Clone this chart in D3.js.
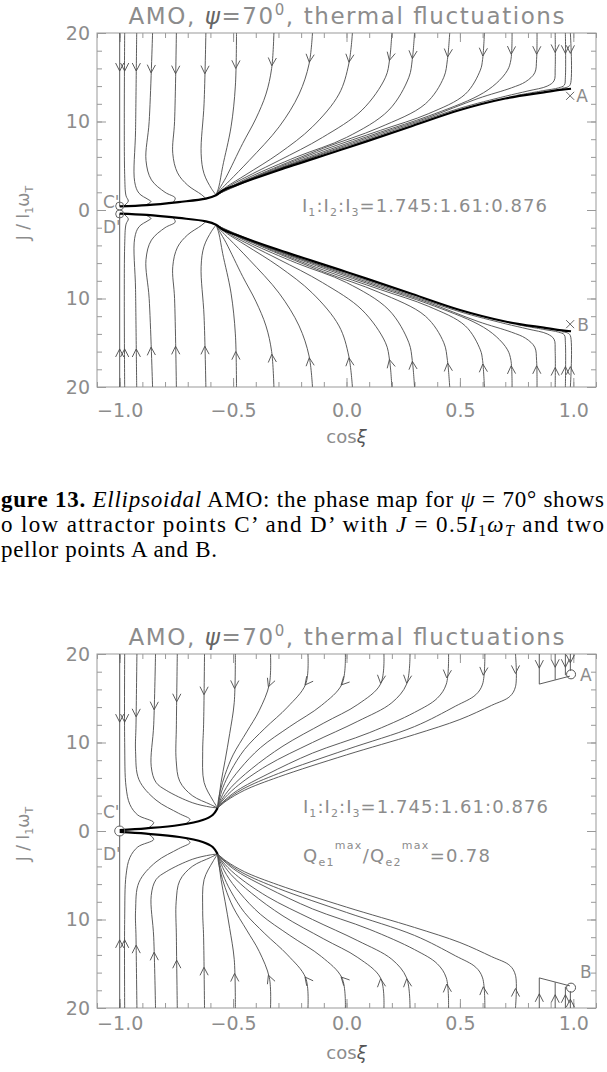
<!DOCTYPE html>
<html>
<head>
<meta charset="utf-8">
<script src="https://cdn.jsdelivr.net/npm/d3@7"></script>
<style>
  body { margin: 0; background: #fff; }
  svg { display: block; }
</style>
</head>
<body>
<div id="chart-area"></div>
<script>
// axis ticks
const xTicks = [-1.0, -0.5, 0.0, 0.5, 1.0];
const yTicks = [-20, -10, 0, 10, 20];
const xMinor = d3.range(-11, 12).map(i => i / 10);
const yMinor = d3.range(-20, 21, 2);

// ---- upper figure: upper half of the map, [cos xi, J]; lower half is its mirror
const thick1 = [[-1.0,0.4],[-0.88,0.55],[-0.74,0.9],[-0.62,1.28],[-0.575,1.66],[-0.546,2.2],[-0.487,2.8],
    [-0.3,4.5],[0.0,7.0],[0.29,9.5],[0.5,11.3],[0.7,12.6],[0.87,13.3],[0.95,13.6],[0.99,13.7]];
const lines1 = [
    [[-1.0,20],[-1.0,0.4]],
    [[-0.978,20],[-0.978,4],[-0.972,1.6],[-0.962,1.0],[-0.98,0.5]],
    [[-0.925,20],[-0.93,9],[-0.934,3.2],[-0.915,1.9],[-0.875,1.2],[-0.862,0.95],[-0.885,0.57]],
    [[-0.855,20],[-0.87,10],[-0.884,5.6],[-0.86,3.4],[-0.8,2.0],[-0.755,1.35],[-0.765,0.84]],
    [[-0.75,20],[-0.758,10],[-0.766,6.4],[-0.745,4.2],[-0.7,2.8],[-0.64,1.75],[-0.62,1.3]],
    [[-0.62,20],[-0.628,12],[-0.641,6.4],[-0.628,4.1],[-0.595,2.4],[-0.575,1.7]],
    [[-0.485,20],[-0.49,14],[-0.509,9.4],[-0.546,4.9],[-0.563,2.6],[-0.575,1.7]],
    [[-0.32,20],[-0.33,16],[-0.355,13.1],[-0.4,10.3],[-0.458,7.5],[-0.531,3.7],[-0.56,2.4],[-0.575,1.7]],
    [[-0.15,20],[-0.165,16.5],[-0.209,13.1],[-0.297,9.4],[-0.429,5.6],[-0.516,3.3],[-0.555,2.3],[-0.575,1.7]],
    [[0.026,20],[0.01,16.5],[-0.033,13.1],[-0.15,9.4],[-0.297,6.4],[-0.443,4.0],[-0.53,2.6],[-0.575,1.7]],
    [[0.2,20],[0.19,17],[0.172,15],[0.069,11.3],[-0.106,8.2],[-0.297,5.6],[-0.414,4.1],[-0.51,2.8],[-0.575,1.7]],
    [[0.3,20],[0.29,17],[0.275,15],[0.187,11.3],[0.0,8.2],[-0.22,6.0],[-0.42,3.8],[-0.52,2.5],[-0.575,1.7]],
    [[0.455,20],[0.445,17],[0.429,15],[0.348,12.0],[0.143,9.3],[-0.1,7.0],[-0.35,4.4],[-0.5,2.7],[-0.575,1.7]],
    [[0.608,20],[0.6,17],[0.59,15.8],[0.524,13.1],[0.363,10.9],[0.15,9.0],[-0.1,6.8],[-0.35,4.3],[-0.5,2.65],[-0.575,1.7]],
    [[0.73,20],[0.725,17],[0.71,15.8],[0.66,14.3],[0.58,12.9],[0.36,10.6],[0.15,8.8],[-0.1,6.6],[-0.35,4.2],[-0.5,2.6],[-0.575,1.7]],
    [[0.84,20],[0.838,17],[0.83,15.5],[0.79,14.5],[0.727,13.8],[0.58,12.6],[0.36,10.45],[0.15,8.65],[-0.1,6.45],[-0.35,4.15],[-0.5,2.55],[-0.575,1.7]],
    [[0.92,20],[0.92,16],[0.915,14.6],[0.885,14.0],[0.8,13.45],[0.7,12.85],[0.5,11.5],[0.29,9.7],[0.0,7.2],[-0.3,4.65],[-0.487,2.9],[-0.575,1.7]],
    [[0.965,20],[0.965,15],[0.96,14.1],[0.935,13.8],[0.87,13.5],[0.75,12.95]],
    [[0.987,20],[0.987,14.2],[0.975,13.9],[0.95,13.75]]
];
const edges1 = [];
const arrowJ1 = [15.7,15.7,15.7,15.5,15.4,15.4,16.0,16.3,16.7,16.7,16.9,17.1,17.3,17.4,17.6,17.6,17.8,17.7,17.7];

// ---- lower figure
const thick2 = [[-1.0,0.1],[-0.883,0.3],[-0.737,0.68],[-0.634,1.24],[-0.59,1.81],[-0.568,2.6]];
const lines2 = [
    [[-1.0,20],[-1.0,0.5]],
    [[-0.978,20],[-0.978,10],[-0.972,5],[-0.955,3],[-0.92,1.8],[-0.85,0.95],[-0.87,0.4]],
    [[-0.924,20],[-0.928,12],[-0.93,9],[-0.915,5.8],[-0.84,3.5],[-0.74,2.0],[-0.69,1.3],[-0.705,0.9]],
    [[-0.842,20],[-0.85,12],[-0.861,7.3],[-0.84,5.5],[-0.795,4.6],[-0.68,3.2],[-0.6,2.7],[-0.568,2.6]],
    [[-0.746,20],[-0.75,12],[-0.751,8],[-0.735,5.6],[-0.68,4.0],[-0.6,3.0],[-0.568,2.6]],
    [[-0.626,20],[-0.63,12],[-0.634,9],[-0.628,5.5],[-0.59,3.5],[-0.568,2.6]],
    [[-0.49,20],[-0.495,14.5],[-0.515,11],[-0.535,8],[-0.553,5.5],[-0.563,3.5],[-0.568,2.6]],
    [[-0.335,20],[-0.34,16.6],[-0.385,13.6],[-0.44,11.2],[-0.5,8.6],[-0.535,6.4],[-0.556,4.6],[-0.566,3.3],[-0.568,2.6]],
    [[-0.17,20],[-0.18,16.6],[-0.26,14.0],[-0.36,11.6],[-0.45,9.2],[-0.51,6.8],[-0.545,4.9],[-0.562,3.4],[-0.568,2.6]],
    [[-0.005,20],[-0.02,16.6],[-0.11,14.2],[-0.25,11.8],[-0.38,9.4],[-0.47,7.0],[-0.53,4.9],[-0.558,3.4],[-0.568,2.6]],
    [[0.165,20],[0.15,16.6],[0.05,14.3],[-0.1,12.2],[-0.28,9.6],[-0.42,7.0],[-0.51,4.9],[-0.553,3.4],[-0.568,2.6]],
    [[0.28,20],[0.265,16.6],[0.2,14.5],[0.05,12.4],[-0.15,10.0],[-0.35,7.4],[-0.49,4.9],[-0.548,3.4],[-0.568,2.6]],
    [[0.45,20],[0.44,16.6],[0.4,15.0],[0.3,13.4],[0.1,11.1],[-0.15,8.8],[-0.35,6.4],[-0.48,4.6],[-0.54,3.4],[-0.568,2.6]],
    [[0.61,20],[0.6,16.6],[0.57,15.4],[0.48,14.1],[0.3,11.8],[0.0,9.2],[-0.3,6.5],[-0.46,4.7],[-0.535,3.4],[-0.568,2.6]],
    [[0.745,20],[0.745,16.3],[0.72,15.2],[0.64,14.2],[0.5,12.6],[0.3,10.9],[0.0,8.6],[-0.3,6.1],[-0.45,4.6],[-0.53,3.4],[-0.568,2.6]]
];
// straight runs into the repellor A
const edges2 = [
    [[0.85,20],[0.85,16.6],[0.985,17.5]],
    [[0.92,20],[0.92,17.1]],
    [[0.965,20],[0.965,17.6]],
    [[0.987,20],[0.987,18.1]]
];
const arrowJ2 = [12.3,12.3,12.9,13.7,14.6,15.4,16.1,16.3,16.5,16.5,16.7,16.7,17.3,17.6,17.8,18.4,18.5,18.5,19.0];

class PhaseMap {
    constructor(svg, top, cfg) {
        this.svg = svg;
        this.top = top;
        this.cfg = cfg;
        this.initVis();
    }

    initVis() {
        const vis = this;
        vis.g = vis.svg.append("g").attr("transform", `translate(0, ${vis.top})`);
        vis.x = d3.scaleLinear().domain([-1.1, 1.1]).range([97, 596]);
        vis.y = d3.scaleLinear().domain([-20, 20]).range([387, 33]);
        vis.drawAxes();
        vis.drawFlow();
        vis.drawLabels();
    }

    drawAxes() {
        const vis = this;
        const [x0, x1] = vis.x.range();
        const [y1, y0] = vis.y.range();

        const axes = [
            [d3.axisBottom(vis.x).tickValues(xTicks).tickSize(-9).tickPadding(vis.cfg.xPad).tickFormat(d => d3.format(".1f")(d).replace("-", "\u2212")), `translate(0, ${y1})`],
            [d3.axisBottom(vis.x).tickValues(xMinor).tickSize(-5).tickFormat(""), `translate(0, ${y1})`],
            [d3.axisTop(vis.x).tickValues(xTicks).tickSize(-9).tickFormat(""), `translate(0, ${y0})`],
            [d3.axisTop(vis.x).tickValues(xMinor).tickSize(-5).tickFormat(""), `translate(0, ${y0})`],
            [d3.axisLeft(vis.y).tickValues(yTicks).tickSize(-9).tickPadding(7).tickFormat(d => Math.abs(d)), `translate(${x0}, 0)`],
            [d3.axisLeft(vis.y).tickValues(yMinor).tickSize(-5).tickFormat(""), `translate(${x0}, 0)`],
            [d3.axisRight(vis.y).tickValues(yTicks).tickSize(-9).tickFormat(""), `translate(${x1}, 0)`],
            [d3.axisRight(vis.y).tickValues(yMinor).tickSize(-5).tickFormat(""), `translate(${x1}, 0)`]
        ];
        axes.forEach(([axis, tr]) => {
            const a = vis.g.append("g").attr("transform", tr).call(axis);
            a.select(".domain").remove();
            a.selectAll("line").attr("stroke", "#999");
            a.selectAll("text")
                .attr("fill", "#8c8c8c")
                .attr("font-family", "DejaVu Sans")
                .attr("font-size", 19);
        });

        vis.g.append("rect")
            .attr("x", x0).attr("y", y0)
            .attr("width", x1 - x0).attr("height", y1 - y0)
            .attr("fill", "none").attr("stroke", "#999");
    }

    drawFlow() {
        const vis = this;
        const cfg = vis.cfg;
        const mirror = l => l.map(([a, b]) => [a, -b]);

        const smooth = d3.line().x(d => vis.x(d[0])).y(d => vis.y(d[1])).curve(d3.curveCatmullRom.alpha(0.5));
        const straight = d3.line().x(d => vis.x(d[0])).y(d => vis.y(d[1]));

        const flow = vis.g.append("g").attr("fill", "none");

        // thin trajectories, both halves
        const all = cfg.lines.concat(cfg.lines.map(mirror));
        flow.selectAll(".traj")
            .data(all)
            .join("path")
            .attr("class", "traj")
            .attr("stroke", "#4a4a4a")
            .attr("stroke-width", 0.9)
            .attr("d", smooth);

        const edges = cfg.edges.concat(cfg.edges.map(mirror));
        flow.selectAll(".edge")
            .data(edges)
            .join("path")
            .attr("class", "edge")
            .attr("stroke", "#4a4a4a")
            .attr("stroke-width", 0.9)
            .attr("d", straight);

        // attractor branches
        flow.selectAll(".thick")
            .data([cfg.thick, mirror(cfg.thick)])
            .join("path")
            .attr("class", "thick")
            .attr("stroke", "#000")
            .attr("stroke-width", 2.2)
            .attr("d", smooth);

        // arrow heads
        const src = cfg.lines.concat(cfg.edges);
        const heads = [];
        src.forEach((l, i) => {
            heads.push(vis.arrowAt(l, cfg.arrowJ[i]));
            heads.push(vis.arrowAt(mirror(l), -cfg.arrowJ[i]));
        });
        const len = 9, ang = 27 * Math.PI / 180;
        flow.selectAll(".head")
            .data(heads.filter(h => h))
            .join("path")
            .attr("class", "head")
            .attr("stroke", "#4a4a4a")
            .attr("stroke-width", 0.9)
            .attr("d", h => {
                const bx = -h.ux, by = -h.uy;
                const r = s => [h.px + len * (bx * Math.cos(s) - by * Math.sin(s)),
                                h.py + len * (bx * Math.sin(s) + by * Math.cos(s))];
                const a = r(ang), b = r(-ang);
                return `M${a[0]},${a[1]}L${h.px},${h.py}L${b[0]},${b[1]}`;
            });
    }

    arrowAt(pts, a) {
        const vis = this;
        for (let i = 0; i < pts.length - 1; i++) {
            const [x0, j0] = pts[i], [x1, j1] = pts[i + 1];
            if ((j0 - a) * (j1 - a) <= 0 && j0 !== j1) {
                const t = (a - j0) / (j1 - j0);
                const dx = vis.x(x1) - vis.x(x0), dy = vis.y(j1) - vis.y(j0);
                const n = Math.hypot(dx, dy);
                return { px: vis.x(x0 + t * (x1 - x0)), py: vis.y(a), ux: dx / n, uy: dy / n };
            }
        }
        return null;
    }

    drawLabels() {
        const vis = this;
        const cfg = vis.cfg;
        const grey = "#8c8c8c";
        const font = "DejaVu Sans";
        const txt = (x, y, size) => vis.g.append("text")
            .attr("x", x).attr("y", y)
            .attr("font-family", font).attr("font-size", size)
            .attr("fill", grey);

        // title
        const t = txt(vis.x(0), 24, 23).attr("text-anchor", "middle").attr("textLength", 436).attr("lengthAdjust", "spacing");
        t.append("tspan").text("AMO, ");
        t.append("tspan").attr("font-style", "italic").attr("fill", "#666").text("\u03c8");
        t.append("tspan").text("=70");
        t.append("tspan").attr("font-size", 15).attr("dy", -9).text("0");
        t.append("tspan").attr("dy", 9).text(", thermal fluctuations");

        // axis titles
        const xl = txt(vis.x(0), cfg.xLab, 18).attr("text-anchor", "middle");
        xl.append("tspan").text("cos");
        xl.append("tspan").attr("font-style", "italic").attr("fill", "#555").text("\u03be");

        const yl = vis.g.append("text")
            .attr("transform", "translate(29, 213) rotate(-90)")
            .attr("text-anchor", "middle")
            .attr("font-family", font).attr("font-size", 17).attr("fill", grey);
        yl.append("tspan").text("J / I");
        yl.append("tspan").attr("font-size", 11).attr("dy", 4).text("1");
        yl.append("tspan").attr("dy", -4).text("\u03c9");
        yl.append("tspan").attr("font-size", 11).attr("dy", 4).text("T");

        // ratio of moments of inertia
        const r = txt(cfg.ratio[0], cfg.ratio[1], 18).attr("textLength", 245).attr("lengthAdjust", "spacing");
        ["1", "2", "3"].forEach((k, i) => {
            r.append("tspan").attr("dy", i ? -4 : 0).text((i ? ":" : "") + "I");
            r.append("tspan").attr("font-size", 11).attr("dy", 4).text(k);
        });
        r.append("tspan").attr("dy", -4).text("=1.745:1.61:0.876");

        if (cfg.qratio) {
            const q = txt(cfg.qratio[0], cfg.qratio[1], 18).attr("textLength", 187).attr("lengthAdjust", "spacing");
            q.append("tspan").text("Q");
            q.append("tspan").attr("font-size", 11).attr("dy", 4).text("e1");
            q.append("tspan").attr("font-size", 11).attr("dy", -17).text("max");
            q.append("tspan").attr("dy", 13).text("/Q");
            q.append("tspan").attr("font-size", 11).attr("dy", 4).text("e2");
            q.append("tspan").attr("font-size", 11).attr("dy", -17).text("max");
            q.append("tspan").attr("dy", 13).text("=0.78");
        }

        // attractors C', D'
        txt(103, cfg.cLab, 17).text("C'");
        txt(103, cfg.dLab, 17).text("D'");
        cfg.attr.forEach(j => vis.g.append("circle")
            .attr("cx", vis.x(-1)).attr("cy", vis.y(j)).attr("r", cfg.attrR)
            .attr("fill", "none").attr("stroke", "#666"));

        // repellors A, B
        [[cfg.rep, "A", cfg.aOff], [[cfg.rep[0], -cfg.rep[1]], "B", cfg.bOff]].forEach(([p, name, off]) => {
            const px = vis.x(p[0]), py = vis.y(p[1]);
            if (cfg.repMark === "x") {
                vis.g.append("path")
                    .attr("d", `M${px - 4},${py - 4}L${px + 4},${py + 4}M${px - 4},${py + 4}L${px + 4},${py - 4}`)
                    .attr("stroke", "#666").attr("fill", "none");
            } else {
                vis.g.append("circle").attr("cx", px).attr("cy", py).attr("r", 4.5)
                    .attr("fill", "none").attr("stroke", "#555");
            }
            txt(px + off[0], py + off[1], 17).text(name);
        });
    }
}

const svg = d3.select("#chart-area")
    .append("svg")
    .attr("width", 607)
    .attr("height", 1072);

svg.append("rect").attr("width", 607).attr("height", 1072).attr("fill", "#fff");

new PhaseMap(svg, 0, {
    lines: lines1, edges: edges1, thick: thick1, arrowJ: arrowJ1,
    xPad: 17, xLab: 443,
    ratio: [302, 212], qratio: null,
    cLab: 208, dLab: 233, attr: [0.45, -0.45], attrR: 4,
    rep: [0.986, 12.9], repMark: "x", aOff: [6, 6], bOff: [7, 7]
});

new PhaseMap(svg, 621, {
    lines: lines2, edges: edges2, thick: thick2, arrowJ: arrowJ2,
    xPad: 9, xLab: 438,
    ratio: [303, 192], qratio: [303, 241],
    cLab: 197, dLab: 239, attr: [0], attrR: 5,
    rep: [0.99, 17.7], repMark: "o", aOff: [9, 7], bOff: [9, -10]
});

// caption between the two figures, as far as it is visible on the page
const capLines = [
    { y: 507, len: 603, parts: [
        ["b", "gure 13."], ["i", " Ellipsoidal"], ["", " AMO: the phase map for "], ["i", "\u03c8"], ["", " = 70\u00b0 shows"]] },
    { y: 532, len: 603, parts: [
        ["", "o low attractor points C\u2019 and D\u2019 with "], ["i", "J"], ["", " = 0.5"], ["i", "I"], ["sub", "1"],
        ["iup", "\u03c9"], ["subi", "T"], ["up", " and two"]] },
    { y: 557, len: 216, parts: [["", "pellor points A and B."]] }
];
capLines.forEach(line => {
    const t = svg.append("text")
        .attr("x", 1).attr("y", line.y)
        .attr("font-family", "Liberation Serif").attr("font-size", 23)
        .attr("fill", "#000")
        .attr("textLength", line.len).attr("lengthAdjust", "spacing");
    line.parts.forEach(([kind, s]) => {
        const sp = t.append("tspan").text(s);
        if (kind === "b") sp.attr("font-weight", "bold");
        if (kind === "i" || kind === "iup" || kind === "subi") sp.attr("font-style", "italic");
        if (kind === "sub" || kind === "subi") sp.attr("font-size", 16).attr("dy", 4);
        if (kind === "iup" || kind === "up") sp.attr("dy", -4);
    });
});
</script>
</body>
</html>
